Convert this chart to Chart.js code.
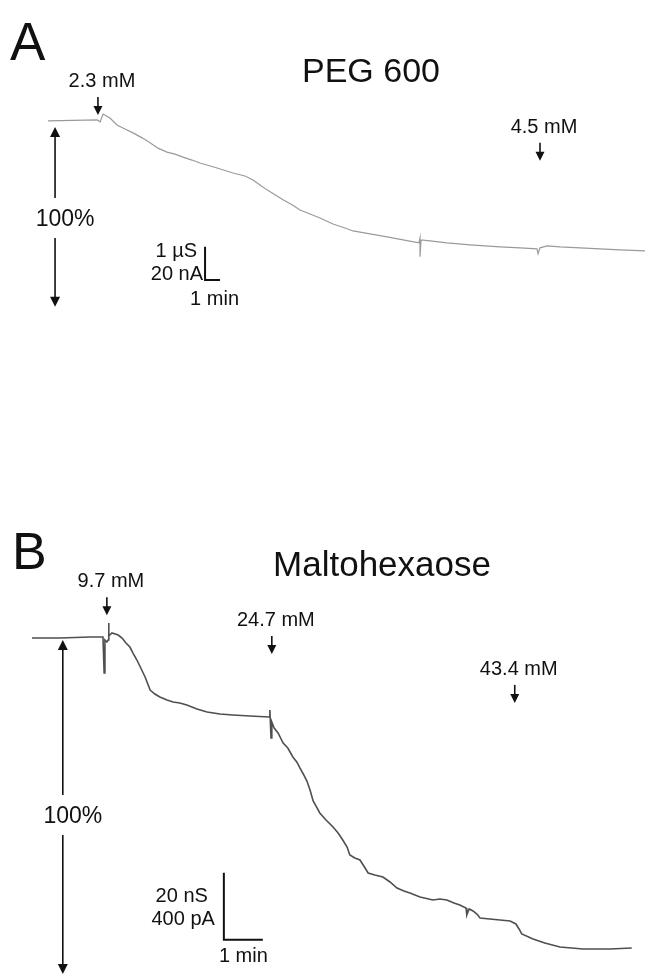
<!DOCTYPE html>
<html>
<head>
<meta charset="utf-8">
<script src="https://cdn.jsdelivr.net/npm/chart.js@4/dist/chart.umd.min.js"></script>
<style>
  body { margin: 0; background: #fff; }
  #wrap { position: relative; width: 645px; height: 974px; overflow: hidden; }
  canvas { position: absolute; left: 0; }
</style>
</head>
<body>
<div id="wrap">
  <canvas id="chartA" width="645" height="487" style="top:0"></canvas>
  <canvas id="chartB" width="645" height="487" style="top:487px"></canvas>
</div>
<script>
// ---- A: PEG 600 (time in min, conductance change in µS) ----
const timeA = [0, 3.27, 3.40, 3.47, 3.67, 4.13, 4.60, 5.13, 5.67, 6.27, 6.80, 7.33, 7.93, 8.47, 9.00,
  9.60, 10.13, 11.27, 12.33, 13.13, 13.67, 14.13, 14.60, 15.13, 15.67, 16.27, 16.80, 17.47, 18.13,
  19.00, 19.80, 20.33, 21.47, 22.60, 23.67, 24.73, 24.80, 24.80, 24.87, 25.47, 26.60, 28.13, 30.13,
  31.47, 32.60, 32.67, 32.80, 33.27, 34.13, 35.47, 36.80, 38.13, 39.80];
const condA = [0, 0.03, 0, -0.03, 0.21, 0.09, -0.12, -0.24, -0.36, -0.51, -0.66, -0.82, -0.94, -1.00, -1.09,
  -1.18, -1.27, -1.42, -1.57, -1.66, -1.78, -1.93, -2.08, -2.23, -2.38, -2.53, -2.69, -2.81, -2.93,
  -3.11, -3.23, -3.32, -3.41, -3.50, -3.59, -3.68, -3.53, -4.10, -3.59, -3.62, -3.68, -3.74, -3.80,
  -3.83, -3.86, -4.01, -3.83, -3.77, -3.80, -3.83, -3.86, -3.89, -3.92];
const addTimeA = [3.33, 32.8];
const addConcA = ["2.3 mM", "4.5 mM"];
const addLevelA = [0.72, -0.66];
const fullA = { t: 0.47, top: -0.18, bottom: -5.61, label: -2.93 };
const barA = { t: 10.47, v: -4.8, dt: 1, dv: 1 };

// ---- B: Maltohexaose (time in min, conductance change in nS) ----
const timeB = [0, 0.72, 1.49, 1.82, 1.85, 1.87, 1.92, 1.95, 1.97, 1.97, 2.05, 2.21, 2.31, 2.41, 2.51,
  2.59, 2.69, 2.79, 2.90, 3.03, 3.15, 3.28, 3.46, 3.62, 3.79, 3.97, 4.23, 4.49, 4.82, 5.15, 5.59,
  6.08, 6.10, 6.13, 6.15, 6.21, 6.31, 6.44, 6.56, 6.69, 6.79, 6.87, 6.97, 7.05, 7.13, 7.21, 7.31,
  7.38, 7.54, 7.72, 7.85, 7.97, 8.08, 8.15, 8.28, 8.41, 8.51, 8.62, 8.79, 9.00, 9.18, 9.36, 9.54,
  9.69, 9.95, 10.28, 10.46, 10.64, 10.82, 10.97, 11.13, 11.15, 11.21, 11.31, 11.41, 11.49, 11.74,
  12.00, 12.26, 12.41, 12.49, 12.56, 12.85, 13.15, 13.54, 14.13, 14.82, 15.38];
const condB = [-0.3, -0.3, 0, 0, -10.75, -0.9, -1.49, -0.9, 4.18, 0.3, 1.19, 0.6, -0.3, -1.79, -2.99,
  -4.78, -6.87, -9.25, -11.94, -15.82, -17.01, -17.91, -18.81, -19.40, -19.70, -20.30, -21.49, -22.39,
  -22.99, -23.28, -23.58, -23.88, -21.79, -30.15, -25.37, -27.16, -28.66, -31.64, -33.13, -35.82,
  -37.31, -39.10, -41.19, -42.99, -45.67, -48.96, -51.04, -52.54, -54.63, -56.72, -58.51, -60.60,
  -62.69, -65.07, -65.97, -66.57, -68.36, -70.45, -71.04, -71.64, -73.13, -74.93, -75.82, -76.42,
  -77.61, -78.51, -78.21, -78.51, -79.40, -80.00, -80.90, -82.99, -81.19, -81.79, -82.69, -83.88,
  -84.18, -84.48, -84.78, -85.67, -87.16, -88.66, -90.15, -91.34, -92.54, -93.13, -93.13, -92.84];
const addTimeB = [1.92, 6.15, 12.38];
const addConcB = ["9.7 mM", "24.7 mM", "43.4 mM"];
const addLevelB = [11.9, 0.3, -14.3];
const fullB = { t: 0.79, top: -0.9, bottom: -100.6, label: -53.1 };
const barB = { t: 4.92, v: -90.4, dt: 1, dv: 20 };

const FONT = '"Liberation Sans", Arial, Helvetica, sans-serif';

function text(ctx, s, x, cy, size, align) {
  ctx.font = `${size}px ${FONT}`;
  ctx.textAlign = align || "center";
  ctx.textBaseline = "alphabetic";
  ctx.fillText(s, x, cy + 0.358 * size);
}

// vertical arrow from y0 to tip y1, head pointing toward y1
function arrow(ctx, x, y0, y1, head, w) {
  const dir = y1 > y0 ? 1 : -1;
  ctx.lineWidth = w;
  ctx.beginPath();
  ctx.moveTo(x, y0);
  ctx.lineTo(x, y1 - dir * head * 0.8);
  ctx.stroke();
  ctx.beginPath();
  ctx.moveTo(x, y1);
  ctx.lineTo(x - head / 2, y1 - dir * head);
  ctx.lineTo(x + head / 2, y1 - dir * head);
  ctx.closePath();
  ctx.fill();
}

const marks = {
  id: "marks",
  afterDatasetsDraw(chart, args, o) {
    const { ctx, scales: { x, y } } = chart;
    ctx.save();
    ctx.fillStyle = ctx.strokeStyle = "#111";

    // panel letter and title
    text(ctx, o.letter, o.letterX, o.letterY, o.letterSize, "left");
    text(ctx, o.title, o.titleX, o.titleY, o.titleSize, "center");

    // additions: arrow + concentration
    o.addTimes.forEach((t, i) => {
      const px = x.getPixelForValue(t), top = y.getPixelForValue(o.addLevels[i]);
      arrow(ctx, px, top, top + 18, 9, 1.6);
      text(ctx, o.addLabels[i], px + 4, top - 17, 20, "center");
    });

    // 100 % double arrow
    const f = o.full, fx = x.getPixelForValue(f.t);
    const ft = y.getPixelForValue(f.top), fb = y.getPixelForValue(f.bottom), fl = y.getPixelForValue(f.label);
    arrow(ctx, fx, fl - 20, ft, 10, 1.6);
    arrow(ctx, fx, fl + 20, fb, 10, 1.6);
    text(ctx, "100%", fx + 10, fl, 23, "center");

    // scale bar labels
    const b = o.bar, bx = x.getPixelForValue(b.t), bb = y.getPixelForValue(b.v);
    const bt = y.getPixelForValue(b.v + b.dv), be = x.getPixelForValue(b.t + b.dt);
    const s = o.barText;
    text(ctx, s[0], bx - s[3], bt + s[4], 20, "right");
    text(ctx, s[1], bx - s[5], bb - s[6], 20, "right");
    text(ctx, s[2], (bx + be) / 2 + s[7], bb + s[8], 20, "center");
    ctx.restore();
  }
};

function panel(id, times, cond, color, width, bar, xr, yr, opts) {
  return new Chart(document.getElementById(id), {
    type: "scatter",
    data: {
      datasets: [
        {
          data: times.map((t, i) => ({ x: t, y: cond[i] })),
          showLine: true, borderColor: color, borderWidth: width,
          pointRadius: 0, tension: 0
        },
        {
          data: [{ x: bar.t, y: bar.v + bar.dv }, { x: bar.t, y: bar.v }, { x: bar.t + bar.dt, y: bar.v }],
          showLine: true, borderColor: "#111", borderWidth: 2,
          pointRadius: 0, tension: 0
        }
      ]
    },
    options: {
      responsive: false,
      animation: false,
      events: [],
      layout: { padding: 0 },
      plugins: { legend: { display: false }, tooltip: { enabled: false }, marks: opts },
      scales: {
        x: { type: "linear", display: false, min: xr[0], max: xr[1] },
        y: { type: "linear", display: false, min: yr[0], max: yr[1] }
      }
    },
    plugins: [marks]
  });
}

panel("chartA", timeA, condA, "#9a9a9a", 1.2, barA, [-3.2, 39.8], [-11.05, 3.652], {
  letter: "A", letterX: 10, letterY: 41, letterSize: 53,
  title: "PEG 600", titleX: 371, titleY: 70, titleSize: 34,
  addTimes: addTimeA, addLabels: addConcA, addLevels: addLevelA,
  full: fullA, bar: barA,
  barText: ["1 µS", "20 nA", "1 min", 8, 3, 2, 7, 2, 18]
});

panel("chartB", timeB, condB, "#4f4f4f", 1.6, barB, [-0.8205, 15.72], [-100.6, 44.78], {
  letter: "B", letterX: 12, letterY: 63, letterSize: 52,
  title: "Maltohexaose", titleX: 382, titleY: 76, titleSize: 35,
  addTimes: addTimeB, addLabels: addConcB, addLevels: addLevelB,
  full: fullB, bar: barB,
  barText: ["20 nS", "400 pA", "1 min", 16, 22, 9, 22, 0, 15]
});
</script>
</body>
</html>
